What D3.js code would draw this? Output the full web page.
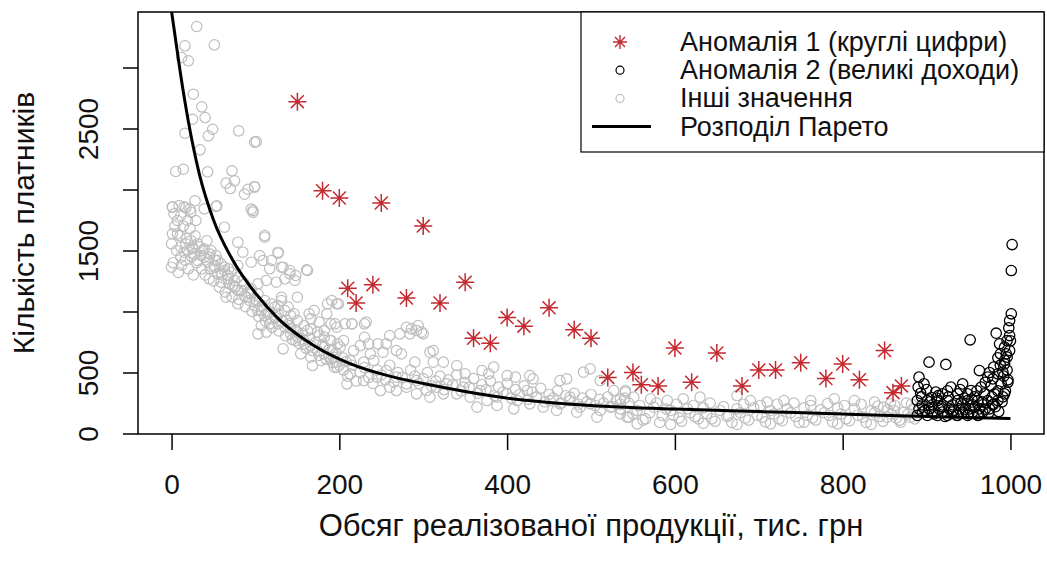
<!DOCTYPE html>
<html lang="uk">
<head>
<meta charset="UTF-8" />
<title>Аномалії та розподіл Парето</title>
<script src="https://cdn.jsdelivr.net/npm/d3@7"></script>
<style>
  body { margin: 0; background: #fff; }
  text { font-family: "Liberation Sans", Arial, sans-serif; fill: #111; }
</style>
</head>
<body>
<svg id="chart" width="1047" height="569"></svg>
<script>
// --- data ---
// Аномалія 1 (круглі цифри): [x, y]
const anomaly1 = [
  [150, 2720], [180, 1990], [200, 1930], [250, 1890], [300, 1700],
  [210, 1190], [220, 1070], [240, 1220], [280, 1110], [320, 1070],
  [350, 1240], [360, 780], [380, 740], [400, 950], [420, 880],
  [450, 1030], [480, 850], [500, 780], [520, 460], [550, 500],
  [560, 400], [580, 390], [600, 700], [620, 420], [650, 660],
  [680, 390], [700, 520], [720, 520], [750, 580], [780, 450],
  [800, 570], [820, 440], [850, 680], [860, 335], [870, 390]
];

// Аномалія 2 (великі доходи)
const anomaly2 = [
  [1002, 1549], [1001, 1336], [1001, 981], [998, 866], [983, 822], [999, 803],
  [952, 768], [987, 735], [993, 708], [988, 653], [996, 626], [903, 585],
  [923, 566], [980, 544], [963, 516], [993, 571], [891, 462], [897, 407],
  [973, 462], [985, 489], [943, 407], [929, 380], [911, 339], [919, 325],
  [953, 352], [965, 380], [977, 393], [989, 407], [999, 926], [996, 762],
  [979, 448], [991, 503], [995, 653],
  [889, 270], [901, 270], [913, 270], [925, 270], [937, 270], [949, 270], [961, 270], [973, 270], [985, 270],
  [891, 202], [903, 202], [915, 202], [927, 202], [939, 202], [951, 202], [963, 202], [975, 202],
  [889, 148], [901, 148], [913, 148], [925, 148], [937, 148], [949, 148], [961, 148],
  [937, 325], [949, 325], [969, 325], [981, 325], [993, 325],
  [895, 235], [907, 235], [919, 235], [931, 235], [943, 235], [955, 235], [967, 235], [979, 235], [991, 300],
  [895, 175], [907, 175], [919, 175], [931, 175], [943, 175], [955, 175], [967, 175], [980, 240],
  [894, 300], [906, 295], [945, 290], [957, 300], [985, 350], [997, 440], [993, 600],
  [893, 330], [898, 190], [904, 260], [909, 160], [914, 310], [918, 220], [922, 140], [926, 300],
  [932, 190], [936, 150], [941, 250], [946, 200], [950, 160], [954, 280], [958, 220], [962, 150],
  [966, 260], [970, 200], [974, 170], [978, 300], [982, 220], [986, 180], [990, 260], [994, 350],
  [997, 420], [992, 470], [988, 560], [996, 520], [999, 680], [1000, 760], [985, 620], [975, 500],
  [970, 420], [960, 350], [940, 360], [925, 350], [912, 290], [900, 360], [890, 380]
];

// Інші значення
const others = [
  // top-left scatter
  [30, 3336], [16, 3178], [51, 3186], [12, 3082], [20, 3055], [26, 2781],
  [36, 2678], [25, 2576], [40, 2590], [16, 2461], [49, 2494], [44, 2440],
  [80, 2481], [101, 2393], [34, 2325], [5, 2148], [14, 2166], [43, 2145],
  [72, 2153], [65, 2052], [75, 2071], [70, 2008], [87, 1962], [99, 2025],
  [91, 2002], [1, 1858], [15, 1858], [28, 1907], [22, 1839], [54, 1866], [95, 1839],
  [99, 2388], [99, 2019], [97, 1828], [111, 1623], [127, 1486], [109, 1418],
  [119, 1418], [133, 1363], [141, 1309], [161, 1342], [147, 1254],
  // left cloud
  [1, 1855], [9, 1869], [17, 1850], [3, 1800], [11, 1787], [23, 1814],
  [19, 1746], [29, 1746], [7, 1746], [53, 1861], [39, 1842], [97, 1814],
  [63, 1691], [111, 1609], [127, 1478], [79, 1568], [85, 1486], [105, 1459],
  [95, 1404], [79, 1377], [117, 1350], [131, 1363], [141, 1336], [148, 1295],
  [162, 1336], [135, 1268], [113, 1254], [103, 1227], [125, 1240], [150, 1117],
  [131, 1117], [186, 1063], [170, 1008], [164, 981], [176, 913], [190, 899],
  [1, 1637], [7, 1637], [0, 1555], [23, 1582], [31, 1555], [39, 1514],
  [15, 1486], [11, 1445], [31, 1418], [45, 1445], [53, 1459], [59, 1391],
  [0, 1363], [45, 1268], [59, 1240], [67, 1295], [75, 1254], [75, 1199],
  [65, 1117], [79, 1063], [89, 1117], [95, 1145], [101, 1090], [83, 1172],
  [103, 1008], [111, 967], [107, 885], [113, 831], [103, 817], [117, 899],
  [123, 1036], [127, 981], [131, 1090], [139, 1036], [137, 926], [146, 981],
  [142, 858], [150, 831], [133, 694], [148, 762], [158, 735], [154, 653],
  [166, 626], [168, 557], [178, 598], [188, 626], [192, 680], [182, 708],
  [194, 544], [176, 803], [162, 844], [166, 940], [182, 844], [51, 1363],
  [55, 1309], [63, 1336], [39, 1445], [47, 1500], [25, 1527], [69, 1227],
  [2, 1400], [4, 1700], [6, 1500], [8, 1320], [10, 1620], [12, 1380], [14, 1700],
  [16, 1420], [18, 1600], [20, 1350], [22, 1680], [24, 1450], [26, 1300], [28, 1620],
  [30, 1400], [33, 1530], [36, 1350], [40, 1300], [42, 1580], [46, 1350], [50, 1250],
  [52, 1420], [57, 1200], [60, 1300], [64, 1160], [68, 1350], [72, 1120], [76, 1200],
  [80, 1100], [84, 1250], [88, 1040], [92, 1150], [96, 1000], [100, 1100], [104, 960],
  [108, 1050], [112, 920], [116, 1000], [120, 870], [124, 950], [128, 840], [132, 920],
  [136, 800], [140, 900], [144, 770], [148, 850], [152, 740], [156, 820], [160, 700],
  [164, 780], [168, 680], [172, 750], [176, 640], [180, 720], [184, 610], [188, 690],
  [192, 580], [196, 660], [200, 560], [204, 620], [208, 590],
  // dense band along the curve
  [11, 1527], [19, 1500], [27, 1473], [35, 1459], [43, 1404], [51, 1377],
  [59, 1322], [67, 1268], [73, 1213], [79, 1172], [87, 1131], [93, 1090],
  [99, 1049], [107, 1008], [115, 981], [119, 940], [127, 899], [135, 872],
  [142, 817], [150, 790], [158, 762], [166, 721], [174, 680], [182, 653],
  [190, 612], [196, 585], [17, 1555], [25, 1514], [37, 1500], [45, 1473],
  [55, 1418], [63, 1363], [71, 1322], [79, 1281], [87, 1227], [95, 1186],
  [103, 1145], [111, 1090], [119, 1063], [127, 1049], [135, 1008], [142, 967],
  [150, 926], [158, 885], [166, 858], [174, 831], [182, 790], [190, 762], [198, 735],
  // middle
  [191, 1090], [199, 1063], [185, 981], [215, 899], [230, 899], [197, 871],
  [230, 789], [256, 735], [280, 871], [292, 844], [300, 817], [312, 680],
  [197, 1063], [195, 899], [207, 899], [215, 899], [232, 913], [189, 762],
  [205, 762], [225, 721], [235, 735], [246, 735], [260, 803], [272, 817],
  [286, 858], [294, 885], [298, 831], [284, 817], [252, 667], [268, 680],
  [274, 653], [308, 667], [312, 585], [290, 585], [324, 585], [340, 557],
  [350, 489], [370, 516], [384, 544], [378, 489], [400, 475], [410, 462],
  [427, 475], [431, 448], [463, 434], [471, 448], [491, 503], [499, 530],
  [511, 434], [527, 352], [541, 352], [535, 284], [193, 626], [213, 598],
  [229, 585], [241, 598], [197, 544], [213, 489], [229, 434], [245, 462],
  [256, 516], [268, 462], [260, 380], [280, 407], [292, 434], [304, 352],
  [316, 380], [328, 407], [308, 298], [324, 325], [340, 325], [348, 380],
  [356, 298], [368, 352], [376, 270], [388, 298], [400, 325], [412, 270],
  [424, 352], [427, 243], [435, 298], [443, 216], [451, 270], [463, 243],
  [475, 298], [487, 216], [499, 243], [511, 189], [523, 216], [535, 161],
  [543, 134], [201, 708], [217, 680], [237, 653], [209, 407], [249, 352],
  [268, 352], [292, 325], [364, 216], [388, 230], [408, 202], [459, 189],
  [483, 175], [507, 134],
  [205, 520], [210, 470], [215, 560], [220, 430], [225, 500], [230, 540], [235, 460],
  [240, 410], [245, 520], [250, 480], [255, 440], [260, 560], [265, 420], [270, 500],
  [275, 460], [280, 380], [285, 520], [290, 470], [295, 410], [300, 450], [305, 500],
  [310, 390], [315, 430], [320, 470], [325, 360], [330, 440], [335, 400], [340, 480],
  [345, 350], [350, 420], [355, 380], [360, 450], [365, 330], [370, 400], [375, 360],
  [380, 430], [385, 310], [390, 380], [395, 340], [400, 410], [405, 290], [410, 360],
  [415, 320], [420, 390], [425, 280], [430, 340], [435, 300], [440, 370], [445, 260],
  [450, 320], [455, 290], [460, 350], [465, 250], [470, 310], [475, 270], [480, 330],
  [485, 240], [490, 290], [495, 260], [500, 320], [505, 230], [510, 280], [515, 250],
  [520, 300], [525, 220], [530, 270], [535, 240], [540, 290],
  // right band
  [541, 339], [551, 298], [571, 284], [591, 270], [610, 284], [630, 298],
  [674, 311], [690, 270], [710, 257], [730, 270], [762, 270], [790, 284],
  [814, 270], [838, 257], [857, 243],
  [535, 202], [555, 189], [575, 216], [595, 189], [615, 202], [634, 210],
  [654, 189], [674, 202], [694, 210], [714, 189], [734, 202], [754, 210],
  [774, 194], [794, 210], [814, 202], [834, 189], [854, 194],
  [545, 134], [565, 120], [585, 148], [605, 128], [624, 139], [644, 120],
  [664, 148], [684, 128], [704, 134], [724, 120], [744, 139], [764, 128],
  [784, 148], [804, 120], [824, 134], [844, 139], [864, 128],
  [555, 79], [595, 74], [634, 85], [674, 74], [714, 79], [754, 93],
  [794, 79], [834, 74], [869, 93],
  [849, 216], [861, 189], [873, 175], [881, 134], [853, 134], [876, 250], [884, 200],
  [545, 250], [550, 160], [558, 230], [562, 110], [570, 170], [578, 250], [582, 90],
  [590, 200], [598, 150], [602, 240], [608, 100], [618, 170], [622, 230], [628, 120],
  [638, 160], [642, 250], [648, 100], [658, 220], [662, 140], [668, 90], [678, 170],
  [682, 240], [688, 110], [698, 150], [702, 230], [708, 95], [718, 160], [722, 240],
  [728, 105], [738, 170], [742, 250], [748, 90], [758, 150], [762, 230], [768, 110],
  [778, 170], [782, 245], [788, 95], [798, 160], [802, 230], [808, 105], [818, 150],
  [822, 240], [828, 90], [838, 170], [842, 225], [848, 100], [858, 160], [862, 230],
  [868, 110], [878, 160], [882, 240], [886, 120]
];

// Розподіл Парето
const paretoX = [0, 5, 10, 20, 33, 50, 73, 100, 129, 170, 212, 260, 300, 350, 400, 450, 500, 600, 700, 800, 857, 900, 1000];
const paretoY = [3460, 3220, 2980, 2560, 2130, 1750, 1420, 1150, 930, 720, 575, 470, 410, 345, 290, 255, 230, 200, 180, 160, 148, 140, 123];

const xTicks = [0, 200, 400, 600, 800, 1000];
const yTicks = [0, 500, 1000, 1500, 2000, 2500, 3000];
const yTickLabels = ["0", "500", "", "1500", "", "2500", ""]; // R drops the overlapping ones

const legendItems = ["Аномалія 1 (круглі цифри)", "Аномалія 2 (великі доходи)", "Інші значення", "Розподіл Парето"];

// --- layout ---
const svg = d3.select("#chart");
const box = { left: 138, right: 1044, top: 12, bottom: 434 };
const red = "#c42a30";
const grey = "#bebebe";

const x = d3.scaleLinear().domain([-40, 1040]).range([box.left, box.right]);
const y = d3.scaleLinear().domain([0, 3455]).range([433.5, box.top]);

svg.append("defs").append("clipPath").attr("id", "plotclip")
  .append("rect")
  .attr("x", box.left).attr("y", box.top)
  .attr("width", box.right - box.left).attr("height", box.bottom - box.top);

const plot = svg.append("g").attr("clip-path", "url(#plotclip)");

// asterisk (R pch = 8)
function star(s) {
  const d = s * 0.72;
  return `M${-s},0H${s}M0,${-s}V${s}M${-d},${-d}L${d},${d}M${-d},${d}L${d},${-d}`;
}

plot.append("g").selectAll("circle")
  .data(others)
  .join("circle")
  .attr("cx", d => x(d[0]))
  .attr("cy", d => y(d[1]))
  .attr("r", 5.2)
  .attr("fill", "none")
  .attr("stroke", grey)
  .attr("stroke-width", 1.2);

plot.append("g").selectAll("circle")
  .data(anomaly2)
  .join("circle")
  .attr("cx", d => x(d[0]))
  .attr("cy", d => y(d[1]))
  .attr("r", 5.2)
  .attr("fill", "none")
  .attr("stroke", "#000")
  .attr("stroke-width", 1.3);

plot.append("g").selectAll("path")
  .data(anomaly1)
  .join("path")
  .attr("transform", d => `translate(${x(d[0])},${y(d[1])})`)
  .attr("d", star(9))
  .attr("stroke", red)
  .attr("stroke-width", 1.5)
  .attr("fill", "none");

const line = d3.line()
  .x(d => x(d[0]))
  .y(d => y(d[1]))
  .curve(d3.curveMonotoneX);

plot.append("path")
  .datum(paretoX.map((v, i) => [v, paretoY[i]]))
  .attr("d", line)
  .attr("fill", "none")
  .attr("stroke", "#000")
  .attr("stroke-width", 3);

// frame
svg.append("rect")
  .attr("x", box.left).attr("y", box.top)
  .attr("width", box.right - box.left).attr("height", box.bottom - box.top)
  .attr("fill", "none")
  .attr("stroke", "#000")
  .attr("stroke-width", 1.5);

// x axis
const xAxis = svg.append("g")
  .attr("transform", `translate(0,${box.bottom})`)
  .call(d3.axisBottom(x).tickValues(xTicks).tickSize(16).tickFormat(d3.format("d")));
xAxis.select(".domain").remove();
xAxis.selectAll("line").attr("stroke", "#000").attr("stroke-width", 1.5);
xAxis.selectAll("text")
  .attr("font-size", 28).attr("font-family", null).attr("fill", "#111")
  .attr("y", 50).attr("dy", null)
  .attr("dominant-baseline", "central");

// y axis (labels parallel to the axis, like R)
const yAxis = svg.append("g")
  .attr("transform", `translate(${box.left},0)`)
  .call(d3.axisLeft(y).tickValues(yTicks).tickSize(15).tickFormat((d, i) => yTickLabels[i]));
yAxis.select(".domain").remove();
yAxis.selectAll("line").attr("stroke", "#000").attr("stroke-width", 1.5);
yAxis.selectAll("text")
  .attr("font-size", 28).attr("font-family", null).attr("fill", "#111")
  .attr("x", null).attr("dy", null)
  .attr("text-anchor", "middle")
  .attr("dominant-baseline", "central")
  .attr("transform", "translate(-50,0) rotate(-90)");

// axis titles
svg.append("text")
  .attr("x", (box.left + box.right) / 2)
  .attr("y", 525)
  .attr("text-anchor", "middle")
  .attr("dominant-baseline", "central")
  .attr("font-size", 31)
  .text("Обсяг реалізованої продукції, тис. грн");

svg.append("text")
  .attr("transform", `translate(23,${(box.top + box.bottom) / 2}) rotate(-90)`)
  .attr("text-anchor", "middle")
  .attr("dominant-baseline", "central")
  .attr("font-size", 30)
  .text("Кількість платників");

// legend
const lg = svg.append("g");
lg.append("rect")
  .attr("x", 581).attr("y", box.top)
  .attr("width", box.right - 581).attr("height", 140)
  .attr("fill", "#fff")
  .attr("stroke", "#000")
  .attr("stroke-width", 1.2);

const rowY = i => 42 + i * 28.2;
const symX = 620;

lg.append("path")
  .attr("transform", `translate(${symX},${rowY(0)})`)
  .attr("d", star(7))
  .attr("stroke", red).attr("stroke-width", 1.4).attr("fill", "none");
lg.append("circle")
  .attr("cx", symX).attr("cy", rowY(1)).attr("r", 4)
  .attr("fill", "none").attr("stroke", "#000").attr("stroke-width", 1.2);
lg.append("circle")
  .attr("cx", symX).attr("cy", rowY(2)).attr("r", 4)
  .attr("fill", "none").attr("stroke", grey).attr("stroke-width", 1.2);
lg.append("line")
  .attr("x1", 592).attr("x2", 651)
  .attr("y1", rowY(3)).attr("y2", rowY(3))
  .attr("stroke", "#000").attr("stroke-width", 3);

lg.selectAll("text.item")
  .data(legendItems)
  .join("text")
  .attr("class", "item")
  .attr("x", 680)
  .attr("y", (d, i) => rowY(i))
  .attr("dominant-baseline", "central")
  .attr("font-size", 27)
  .text(d => d);
</script>
</body>
</html>
